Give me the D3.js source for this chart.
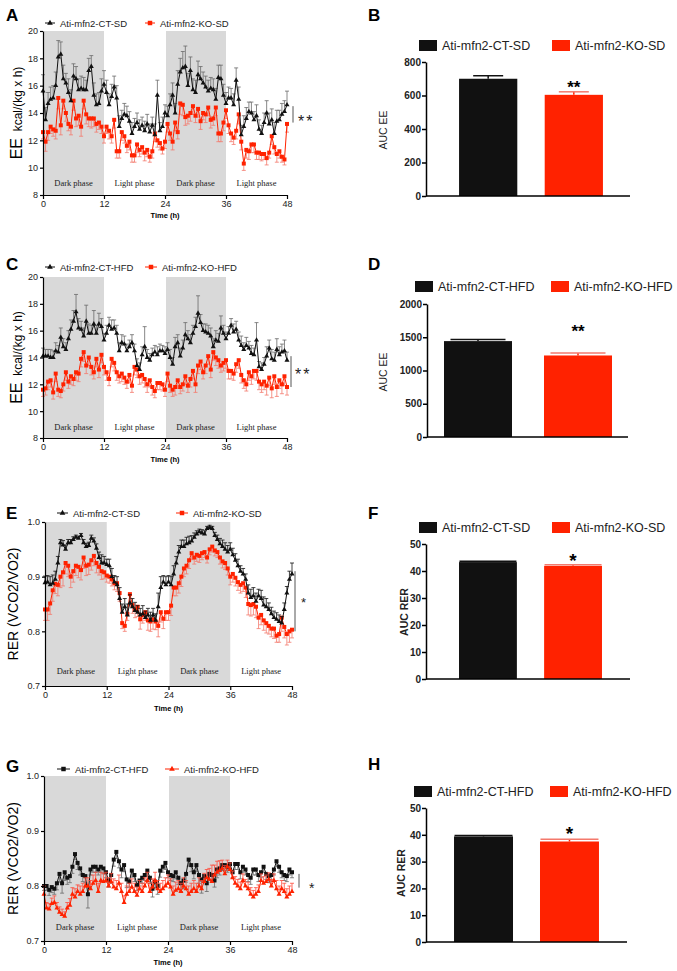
<!DOCTYPE html>
<html>
<head>
<meta charset="utf-8">
<script src="https://cdn.jsdelivr.net/npm/d3@7"></script>
<style>
body { margin: 0; background: #fff; }
svg { display: block; font-family: Arial, "Liberation Sans", sans-serif; }
</style>
</head>
<body>
<svg id="fig" width="677" height="971"></svg>
<script>
// ---- data ----
var TIME = d3.range(0, 48.5, 0.5)
var TIME_TICKS = [0, 12, 24, 36, 48]
var PHASES = [
	{name: 'Dark phase', from: 0, to: 12, dark: true},
	{name: 'Light phase', from: 12, to: 24, dark: false},
	{name: 'Dark phase', from: 24, to: 36, dark: true},
	{name: 'Light phase', from: 36, to: 48, dark: false}]

// A: EE, standard diet
var A_CT = [15.6,13.5,14.7,15.0,15.1,16.0,18.1,18.3,16.5,16.2,15.5,14.9,16.7,16.5,15.7,15.8,15.7,15.7,17.1,17.4,15.3,14.6,14.7,15.6,16.1,
	15.5,14.6,15.2,15.9,15.1,13.0,13.6,13.9,13.8,13.4,12.5,13.0,13.3,12.8,13.1,12.7,13.2,12.6,13.1,12.4,15.3,12.7,13.0,14.0,
	13.8,14.6,15.3,14.0,16.1,17.0,17.3,17.4,16.0,17.1,15.7,15.5,16.8,16.5,16.2,15.9,15.6,15.8,15.7,15.0,16.6,16.5,15.3,14.7,
	15.1,15.1,14.6,16.4,15.0,12.4,13.0,13.6,14.1,14.0,13.5,13.8,12.8,12.5,13.3,14.0,13.2,13.5,12.5,13.4,13.5,13.9,14.1,14.6]
var A_CT_ERR = [1.2,0.9,0.8,0.9,0.9,1.0,1.2,0.9,1.0,0.7,1.0,0.8,0.9,0.9,0.8,0.9,0.9,0.7,0.9,0.8,0.9,0.8,0.8,0.9,1.0,
	0.9,0.8,0.9,0.8,0.9,0.8,0.6,0.8,0.7,0.7,0.8,0.6,0.7,0.7,0.6,0.7,0.7,0.6,0.6,0.8,1.1,0.6,0.7,0.6,
	0.7,0.8,0.9,0.7,1.0,1.0,1.2,1.5,0.9,1.0,0.8,0.9,1.0,0.9,0.8,0.8,0.8,0.8,0.8,0.8,0.9,1.0,0.8,0.8,
	0.8,0.7,0.8,0.9,0.9,0.7,0.8,0.8,0.7,0.8,0.6,0.8,0.7,0.6,0.7,0.9,0.8,0.8,0.8,0.8,0.7,0.8,0.8,1.0]
var A_KO = [12.6,11.9,12.6,13.0,12.8,12.7,15.1,13.1,14.9,14.0,13.2,13.0,14.9,13.6,13.8,13.0,14.9,13.9,13.6,13.6,13.6,13.2,13.3,13.0,12.3,
	13.0,12.7,12.3,13.5,11.2,11.2,12.6,12.3,11.6,11.9,10.9,10.9,11.7,11.3,11.5,11.1,11.3,10.8,11.2,12.5,12.0,11.8,11.4,11.9,
	13.2,12.5,11.9,13.3,12.6,14.7,14.6,13.7,13.8,14.0,14.5,13.8,14.3,13.4,14.0,13.9,14.4,13.5,13.6,14.4,12.5,12.5,13.3,14.2,
	13.1,12.5,12.2,12.7,13.9,11.9,10.3,11.3,11.2,11.7,11.7,11.1,11.1,11.0,11.0,10.7,11.1,12.3,11.5,11.0,11.2,10.8,10.6,13.2]
var A_KO_ERR = [0.5,0.7,0.6,0.5,0.5,0.6,0.8,0.7,0.6,0.6,0.5,0.6,0.7,0.6,0.7,0.7,0.6,0.7,0.6,0.7,0.6,0.6,0.5,0.5,0.5,
	0.5,0.6,0.5,0.6,0.5,0.5,0.6,0.5,0.5,0.6,0.5,0.5,0.6,0.5,0.5,0.6,0.5,0.4,0.5,0.6,0.5,0.5,0.4,0.5,
	0.6,0.5,0.6,0.6,0.5,0.8,0.8,0.6,0.6,0.6,0.6,0.5,0.6,0.6,0.5,0.6,0.6,0.6,0.5,0.6,0.6,0.6,0.6,0.6,
	0.6,0.6,0.5,0.6,0.7,0.6,0.5,0.6,0.6,0.6,0.6,0.5,0.5,0.5,0.4,0.5,0.4,0.6,0.5,0.6,0.5,0.4,0.4,0.6]

// C: EE, high fat diet
var C_CT = [14.1,14.1,14.1,14.0,14.0,14.5,14.4,15.5,14.8,14.6,15.4,16.1,16.7,17.4,16.2,16.1,15.6,16.7,15.8,15.8,16.5,15.8,16.5,16.3,15.3,
	15.8,16.4,16.1,16.2,15.8,14.5,15.1,15.0,14.5,14.8,15.1,14.5,13.4,13.1,14.2,14.8,14.0,13.8,14.2,14.4,14.2,14.5,14.5,14.3,
	14.6,14.0,13.5,14.8,15.1,14.1,14.7,15.7,15.4,15.1,15.8,16.3,17.3,16.6,16.0,15.9,15.8,15.6,14.8,15.3,15.2,16.2,15.8,15.4,
	15.8,16.4,15.9,16.1,15.3,14.9,14.6,14.9,14.7,14.3,14.2,15.3,13.3,13.1,13.5,14.1,14.7,13.9,13.8,14.6,14.2,14.4,14.5,13.8]
var C_CT_ERR = [0.6,0.5,0.5,0.6,0.5,0.6,0.5,0.7,0.6,0.5,0.6,0.7,0.8,1.3,0.7,0.6,0.6,1.2,0.7,0.6,1.0,0.6,0.8,0.6,0.5,
	0.6,0.6,0.7,0.6,0.6,0.6,0.6,0.6,0.5,0.5,0.6,0.5,0.5,0.5,0.6,1.5,0.6,0.5,0.5,0.5,0.6,0.5,0.4,0.5,
	0.5,0.6,0.5,0.7,0.6,0.6,0.6,0.9,0.6,0.6,0.6,0.7,1.3,0.6,0.5,0.6,0.6,0.6,0.6,0.7,0.6,0.9,0.6,0.5,
	0.5,0.5,0.6,0.6,0.6,0.7,0.5,0.6,0.5,0.6,0.5,1.3,0.4,0.5,0.5,0.7,0.6,0.7,0.6,0.8,0.6,0.6,0.8,0.6]
var C_KO = [11.6,11.7,12.2,12.3,11.4,12.8,11.6,11.5,12.0,12.9,12.2,12.6,12.4,12.9,12.8,13.9,14.4,13.4,14.0,13.3,12.9,13.9,13.1,14.2,13.3,
	12.9,12.4,13.9,13.6,12.9,12.6,12.8,12.5,12.2,12.7,11.9,13.3,13.1,12.6,12.7,12.4,12.0,12.3,11.8,11.5,12.1,12.1,12.0,11.6,
	12.8,11.9,11.6,11.8,12.3,11.8,12.0,12.6,11.9,12.4,13.0,12.0,13.4,13.7,12.9,13.4,14.1,13.1,14.4,14.0,13.8,13.4,13.6,13.8,
	13.0,13.0,12.8,13.5,13.8,12.7,12.3,12.0,12.9,12.6,13.0,13.0,12.2,12.0,12.2,11.9,12.5,11.7,12.6,11.8,12.3,12.0,12.6,11.8]
var C_KO_ERR = [0.5,0.5,0.6,0.5,0.5,0.6,0.5,0.5,0.5,0.6,0.5,0.6,0.5,0.6,0.6,0.6,0.7,0.6,0.6,0.6,0.5,0.6,0.6,0.6,0.6,
	0.6,0.5,0.6,0.6,0.6,0.5,0.6,0.5,0.5,0.6,0.5,0.6,0.6,0.6,0.6,0.6,0.6,0.5,0.6,0.5,0.5,0.5,0.5,0.5,
	0.6,0.5,0.5,0.6,0.6,0.5,0.5,0.6,0.5,0.6,0.6,0.6,0.6,0.6,0.5,0.6,0.6,0.6,0.6,0.6,0.6,0.5,0.6,0.6,
	0.6,0.6,0.5,0.6,0.6,0.6,0.6,0.5,0.6,0.6,0.6,0.7,0.6,0.6,0.6,0.7,0.6,0.7,0.6,0.7,0.6,0.7,0.7,0.6]

// E: RER, standard diet
var E_CT = [.889,.890,.885,.888,.895,.925,.962,.958,.950,.962,.962,.968,.972,.970,.975,.962,.955,.957,.970,.965,.952,.935,.925,.925,.922,
	.920,.900,.890,.885,.860,.835,.845,.830,.852,.845,.838,.835,.830,.832,.825,.830,.820,.830,.820,.845,.880,.890,.885,.890,
	.885,.905,.925,.945,.955,.955,.960,.962,.965,.972,.978,.982,.980,.978,.988,.990,.988,.975,.968,.960,.955,.950,.945,.950,
	.940,.930,.920,.910,.905,.895,.870,.862,.865,.855,.865,.860,.848,.845,.840,.832,.825,.822,.818,.815,.840,.870,.895,.905]
var E_CT_ERR = [.012,.012,.015,.015,.015,.012,.006,.008,.008,.006,.006,.005,.004,.004,.004,.006,.006,.006,.006,.006,.008,.010,.015,.012,.010,
	.012,.015,.012,.015,.020,.015,.015,.020,.015,.015,.015,.012,.012,.015,.012,.012,.015,.012,.012,.025,.020,.012,.015,.012,
	.015,.015,.012,.012,.012,.012,.012,.012,.010,.008,.006,.005,.006,.006,.004,.004,.004,.006,.008,.010,.012,.012,.012,.012,
	.012,.012,.012,.010,.010,.010,.015,.015,.015,.015,.012,.015,.015,.015,.012,.012,.012,.012,.012,.012,.012,.012,.015,.020]
var E_KO = [.840,.840,.851,.875,.887,.885,.900,.908,.925,.920,.900,.910,.920,.918,.912,.935,.920,.922,.930,.938,.925,.918,.910,.908,.902,
	.900,.895,.888,.888,.870,.815,.810,.832,.868,.848,.840,.845,.822,.830,.835,.820,.818,.822,.818,.810,.835,.823,.835,.835,
	.847,.880,.880,.888,.900,.915,.920,.930,.943,.935,.940,.938,.943,.945,.935,.950,.955,.948,.945,.935,.928,.925,.915,.900,
	.905,.898,.890,.885,.888,.880,.850,.848,.850,.845,.825,.830,.820,.815,.810,.805,.805,.792,.795,.825,.808,.795,.800,.803]
var E_KO_ERR = [.020,.020,.020,.020,.018,.020,.020,.025,.020,.020,.020,.020,.018,.020,.018,.020,.018,.018,.018,.018,.018,.015,.015,.012,.012,
	.012,.012,.012,.015,.015,.010,.010,.012,.018,.015,.015,.018,.018,.015,.015,.018,.018,.018,.015,.020,.018,.018,.015,.015,
	.018,.015,.015,.018,.018,.015,.015,.015,.012,.012,.012,.012,.012,.010,.010,.010,.010,.010,.010,.012,.012,.012,.012,.015,
	.015,.015,.015,.015,.015,.018,.020,.020,.020,.020,.020,.018,.018,.018,.015,.015,.018,.012,.015,.025,.020,.020,.020,.015]

// G: RER, high fat diet
var G_CT = [.800,.800,.793,.798,.795,.805,.822,.805,.825,.815,.818,.835,.858,.842,.832,.820,.818,.785,.830,.835,.835,.830,.835,.832,.825,
	.810,.820,.848,.862,.845,.830,.838,.812,.808,.828,.820,.802,.810,.815,.820,.828,.815,.795,.808,.800,.828,.835,.842,.825,
	.820,.818,.825,.815,.805,.810,.822,.848,.838,.825,.838,.820,.812,.818,.805,.822,.820,.810,.830,.832,.838,.838,.835,.840,
	.825,.840,.840,.825,.835,.830,.820,.815,.830,.830,.820,.825,.835,.822,.818,.820,.830,.845,.835,.825,.820,.818,.830,.825]
var G_CT_ERR = [.008,.008,.010,.010,.010,.012,.015,.018,.015,.012,.012,.012,.010,.012,.012,.012,.012,.025,.010,.010,.010,.010,.010,.010,.010,
	.012,.015,.012,.012,.012,.015,.012,.015,.010,.012,.012,.010,.010,.010,.010,.010,.010,.015,.012,.015,.012,.010,.012,.010,
	.010,.010,.012,.012,.015,.015,.015,.012,.012,.012,.012,.015,.025,.012,.015,.012,.012,.012,.015,.012,.010,.010,.010,.010,
	.010,.010,.010,.012,.010,.010,.012,.012,.010,.010,.012,.010,.010,.010,.012,.012,.010,.010,.010,.010,.010,.010,.010,.010]
var G_KO = [.785,.760,.758,.768,.770,.760,.752,.748,.745,.760,.765,.785,.780,.790,.785,.790,.800,.800,.795,.805,.810,.790,.810,.808,.810,
	.800,.808,.798,.795,.805,.790,.770,.785,.790,.798,.790,.783,.795,.790,.800,.810,.790,.798,.810,.795,.790,.795,.800,.805,
	.798,.785,.792,.795,.790,.800,.795,.785,.790,.795,.790,.800,.795,.808,.815,.812,.808,.820,.825,.828,.832,.822,.835,.830,
	.815,.805,.800,.795,.810,.800,.795,.785,.780,.785,.790,.810,.805,.808,.812,.800,.810,.795,.785,.795,.790,.780,.785,.790]
var G_KO_ERR = [.015,.010,.010,.010,.012,.010,.010,.010,.008,.010,.012,.012,.015,.012,.015,.015,.015,.015,.015,.015,.015,.015,.015,.015,.015,
	.015,.015,.015,.015,.015,.015,.012,.015,.015,.015,.015,.015,.015,.015,.015,.015,.015,.015,.015,.015,.015,.015,.015,.015,
	.015,.015,.015,.015,.015,.015,.015,.015,.015,.015,.015,.015,.015,.015,.015,.020,.030,.018,.020,.018,.015,.015,.012,.012,
	.012,.012,.012,.012,.012,.012,.012,.012,.012,.012,.012,.012,.012,.012,.012,.012,.012,.015,.015,.015,.015,.015,.015,.015]

// AUC bar panels
var SD_NAMES = ['Ati-mfn2-CT-SD', 'Ati-mfn2-KO-SD']
var HFD_NAMES = ['Ati-mfn2-CT-HFD', 'Ati-mfn2-KO-HFD']
var B_AUC = [700, 604], B_ERR = [18, 18]
var D_AUC = [1442, 1226], D_ERR = [25, 38]
var F_AUC = [43.3, 41.9], F_ERR = [0.3, 0.4]
var H_AUC = [39.4, 37.5], H_ERR = [0.3, 0.8]
var EE_TICKS = [8, 10, 12, 14, 16, 18, 20]
var RER_TICKS = [0.7, 0.8, 0.9, 1.0]

// ---- styles ----
var RED = '#ff2200',
	RED_ERR = '#f4796c',
	BLACK = '#111',
	GREY_ERR = '#6a6a6a',
	SHADE = '#d9d9d9'

var svg = d3.select('#fig')
svg.append('rect').attr('width', 677).attr('height', 971).attr('fill', '#fff')

function panelLabel(txt, x, y) {
	svg.append('text').text(txt)
		.attr('x', x).attr('y', y)
		.attr('font-size', 17).attr('font-weight', 'bold')
}

function symbolPath(type, size) {
	return d3.symbol().type(type == 'tri' ? d3.symbolTriangle : d3.symbolSquare).size(size)()
}

function drawSeries(g, x, y, s) {
	var pts = TIME.map(function(t, i) { return {t: t, v: s.values[i], e: s.err[i]} })

	g.selectAll(null).data(pts).enter().append('line')
		.attr('x1', function(d) { return x(d.t) })
		.attr('x2', function(d) { return x(d.t) })
		.attr('y1', function(d) { return y(d.v) })
		.attr('y2', function(d) { return y(d.v + s.dir * d.e) })
		.attr('stroke', s.errColor).attr('stroke-width', 0.8)

	g.selectAll(null).data(pts).enter().append('line')
		.attr('x1', function(d) { return x(d.t) - 2 })
		.attr('x2', function(d) { return x(d.t) + 2 })
		.attr('y1', function(d) { return y(d.v + s.dir * d.e) })
		.attr('y2', function(d) { return y(d.v + s.dir * d.e) })
		.attr('stroke', s.errColor).attr('stroke-width', 0.8)

	g.append('path').datum(pts)
		.attr('d', d3.line().x(function(d) { return x(d.t) }).y(function(d) { return y(d.v) }))
		.attr('fill', 'none').attr('stroke', s.color).attr('stroke-width', 1)

	g.selectAll(null).data(pts).enter().append('path')
		.attr('transform', function(d) { return 'translate(' + x(d.t) + ',' + y(d.v) + ')' })
		.attr('d', symbolPath(s.marker, s.marker == 'tri' ? 11 : 16))
		.attr('fill', s.color)
}

function linePanel(cfg) {
	var g = svg.append('g')
	var x = d3.scaleLinear().domain([0, 48]).range([cfg.x0, cfg.x1])
	var y = d3.scaleLinear().domain(cfg.yDomain).range([cfg.yb, cfg.yt])

	g.selectAll('rect.phase').data(PHASES.filter(function(d) { return d.dark }))
		.enter().append('rect')
		.attr('x', function(d) { return x(d.from) + 1 })
		.attr('width', function(d) { return x(d.to) - x(d.from) - 1 })
		.attr('y', y(cfg.yDomain[1]))
		.attr('height', y(cfg.yDomain[0]) - y(cfg.yDomain[1]))
		.attr('fill', SHADE)

	g.selectAll('text.phase').data(PHASES).enter().append('text')
		.text(function(d) { return d.name })
		.attr('x', function(d) { return x((d.from + d.to) / 2) })
		.attr('y', cfg.phaseY)
		.attr('text-anchor', 'middle')
		.attr('font-family', '"Liberation Serif", serif')
		.attr('font-size', 8.5).attr('fill', '#222')

	cfg.series.forEach(function(s) { drawSeries(g.append('g'), x, y, s) })

	var xa = g.append('g').attr('transform', 'translate(0,' + cfg.yb + ')')
		.call(d3.axisBottom(x).tickValues(TIME_TICKS).tickSize(4).tickSizeOuter(0).tickPadding(2))
	var ya = g.append('g').attr('transform', 'translate(' + cfg.x0 + ',0)')
		.call(d3.axisLeft(y).tickValues(cfg.yTicks).tickFormat(cfg.fmt).tickSize(3).tickSizeOuter(0).tickPadding(2))
	;[xa, ya].forEach(function(a) {
		a.selectAll('path, line').attr('stroke', '#000').attr('stroke-width', 1.2)
		a.selectAll('text').attr('font-size', 9).attr('fill', '#222').attr('font-family', 'Arial, "Liberation Sans", sans-serif')
	})

	g.append('text').text('Time (h)')
		.attr('x', (cfg.x0 + cfg.x1) / 2).attr('y', cfg.timeY)
		.attr('text-anchor', 'middle').attr('font-size', 7.5).attr('font-weight', 'bold')

	var yl = g.append('text')
		.attr('transform', 'translate(' + cfg.ylabX + ',' + (cfg.yt + cfg.yb) / 2 + ') rotate(-90)')
		.attr('text-anchor', 'middle')
	cfg.ylab.forEach(function(p) {
		yl.append('tspan').text(p[0]).attr('font-size', p[1]).attr('xml:space', 'preserve')
	})

	// legend
	cfg.legend.forEach(function(l, i) {
		var s = cfg.series.filter(function(d) { return d.key == l.key })[0]
		g.append('line').attr('x1', l.x).attr('x2', l.x + l.w).attr('y1', cfg.legY).attr('y2', cfg.legY)
			.attr('stroke', s.color).attr('stroke-width', 1)
		g.append('path').attr('transform', 'translate(' + (l.x + l.w / 2) + ',' + cfg.legY + ')')
			.attr('d', symbolPath(s.marker, s.marker == 'tri' ? 14 : 20)).attr('fill', s.color)
		g.append('text').text(l.name).attr('x', l.x + l.w + 5).attr('y', cfg.legY + 3.5)
			.attr('font-size', 9.5).attr('fill', '#222')
	})

	// significance bracket
	g.append('line').attr('x1', cfg.sig.x).attr('x2', cfg.sig.x)
		.attr('y1', y(cfg.sig.from)).attr('y2', y(cfg.sig.to))
		.attr('stroke', '#555').attr('stroke-width', 1)
	g.append('text').text(cfg.sig.txt).attr('x', cfg.sig.tx).attr('y', cfg.sig.ty)
		.attr('font-size', cfg.sig.fs).attr('letter-spacing', 2).attr('fill', '#222')
}

function barPanel(cfg) {
	var g = svg.append('g')
	var x = d3.scaleBand().domain(cfg.names).range([cfg.x0, cfg.bandEnd])
		.paddingInner(cfg.pi).paddingOuter(cfg.po)
	var y = d3.scaleLinear().domain([0, cfg.max]).range([cfg.yb, cfg.yt])
	var colors = [BLACK, RED]
	var rows = cfg.names.map(function(n, i) { return {name: n, v: cfg.values[i], e: cfg.err[i], c: colors[i]} })

	g.selectAll('rect.bar').data(rows).enter().append('rect')
		.attr('x', function(d) { return x(d.name) })
		.attr('width', x.bandwidth())
		.attr('y', function(d) { return y(d.v) })
		.attr('height', function(d) { return y(0) - y(d.v) })
		.attr('fill', function(d) { return d.c })

	g.selectAll('line.err').data(rows).enter().append('line')
		.attr('x1', function(d) { return x(d.name) + x.bandwidth() / 2 })
		.attr('x2', function(d) { return x(d.name) + x.bandwidth() / 2 })
		.attr('y1', function(d) { return y(d.v) })
		.attr('y2', function(d) { return y(d.v + d.e) })
		.attr('stroke', function(d) { return d.c }).attr('stroke-width', 1.5)
	g.selectAll('line.cap').data(rows).enter().append('line')
		.attr('x1', function(d) { return x(d.name) + x.bandwidth() / 2 - cfg.cap / 2 })
		.attr('x2', function(d) { return x(d.name) + x.bandwidth() / 2 + cfg.cap / 2 })
		.attr('y1', function(d) { return y(d.v + d.e) })
		.attr('y2', function(d) { return y(d.v + d.e) })
		.attr('stroke', function(d) { return d.c == RED ? RED_ERR : d.c }).attr('stroke-width', 1.5)

	var ya = g.append('g').attr('transform', 'translate(' + cfg.x0 + ',0)')
		.call(d3.axisLeft(y).tickValues(cfg.ticks).tickFormat(d3.format('d')).tickSize(4).tickSizeOuter(0).tickPadding(1))
	ya.selectAll('path, line').attr('stroke', '#000').attr('stroke-width', 1.5)
	ya.selectAll('text').attr('font-size', 10).attr('font-weight', 'bold').attr('fill', '#222')
		.attr('font-family', 'Arial, "Liberation Sans", sans-serif')

	g.append('line').attr('x1', cfg.x0).attr('x2', cfg.xEnd).attr('y1', y(0)).attr('y2', y(0))
		.attr('stroke', '#000').attr('stroke-width', 1.5)

	g.append('text').text(cfg.ylab)
		.attr('transform', 'translate(' + cfg.ylabX + ',' + cfg.ylabY + ') rotate(-90)')
		.attr('text-anchor', 'middle').attr('font-size', 10.5)
		.attr('font-weight', cfg.ylabBold ? 'bold' : 'normal').attr('fill', '#222')

	rows.forEach(function(d, i) {
		g.append('rect').attr('x', cfg.legX[i]).attr('y', cfg.legY).attr('width', 18).attr('height', 11)
			.attr('fill', d.c)
		g.append('text').text(d.name).attr('x', cfg.legX[i] + 23).attr('y', cfg.legY + 10)
			.attr('font-size', 12.5).attr('fill', '#222')
	})

	g.append('text').text(cfg.star.txt)
		.attr('x', x(cfg.names[1]) + x.bandwidth() / 2).attr('y', cfg.star.y)
		.attr('text-anchor', 'middle').attr('font-size', cfg.star.fs).attr('font-weight', 'bold')
}

// ---- panels ----
panelLabel('A', 6, 21)
linePanel({
	x0: 43, x1: 287, yt: 31, yb: 195, yDomain: [8, 20], yTicks: EE_TICKS, fmt: d3.format('d'),
	phaseY: 186, timeY: 218, ylabX: 22, ylab: [['EE', 16], ['  kcal/(kg x h)', 12]],
	legY: 23, legend: [{key: 'ct', name: 'Ati-mfn2-CT-SD', x: 45, w: 10}, {key: 'ko', name: 'Ati-mfn2-KO-SD', x: 145, w: 10}],
	sig: {x: 293, from: 14.5, to: 13.3, txt: '**', tx: 298, ty: 127, fs: 16},
	series: [
		{key: 'ko', values: A_KO, err: A_KO_ERR, dir: -1, color: RED, errColor: RED_ERR, marker: 'sq'},
		{key: 'ct', values: A_CT, err: A_CT_ERR, dir: 1, color: BLACK, errColor: GREY_ERR, marker: 'tri'}]
})

panelLabel('B', 368, 21)
barPanel({
	names: SD_NAMES, values: B_AUC, err: B_ERR, max: 800, ticks: [0, 200, 400, 600, 800],
	x0: 426, xEnd: 630, bandEnd: 636, pi: 0.32, po: 0.386, yt: 62, yb: 196, cap: 30,
	ylab: 'AUC EE', ylabX: 387, ylabY: 130, ylabBold: false,
	legX: [419, 552], legY: 40, star: {txt: '**', y: 93, fs: 17}
})

panelLabel('C', 6, 270)
linePanel({
	x0: 43, x1: 287, yt: 277, yb: 438, yDomain: [8, 20], yTicks: EE_TICKS, fmt: d3.format('d'),
	phaseY: 430, timeY: 462, ylabX: 22, ylab: [['EE', 16], ['  kcal/(kg x h)', 12]],
	legY: 267, legend: [{key: 'ct', name: 'Ati-mfn2-CT-HFD', x: 45, w: 10}, {key: 'ko', name: 'Ati-mfn2-KO-HFD', x: 145, w: 12}],
	sig: {x: 291, from: 14.1, to: 11.8, txt: '**', tx: 295, ty: 380, fs: 16},
	series: [
		{key: 'ko', values: C_KO, err: C_KO_ERR, dir: -1, color: RED, errColor: RED_ERR, marker: 'sq'},
		{key: 'ct', values: C_CT, err: C_CT_ERR, dir: 1, color: BLACK, errColor: GREY_ERR, marker: 'tri'}]
})

panelLabel('D', 368, 270)
barPanel({
	names: HFD_NAMES, values: D_AUC, err: D_ERR, max: 2000, ticks: [0, 500, 1000, 1500, 2000],
	x0: 427, xEnd: 628, bandEnd: 629, pi: 0.32, po: 0.17, yt: 304, yb: 437, cap: 55,
	ylab: 'AUC EE', ylabX: 387, ylabY: 372, ylabBold: false,
	legX: [415, 551], legY: 281, star: {txt: '**', y: 337, fs: 17}
})

panelLabel('E', 6, 519)
linePanel({
	x0: 45, x1: 292, yt: 522, yb: 686, yDomain: [0.7, 1.0], yTicks: RER_TICKS, fmt: d3.format('.1f'),
	phaseY: 674, timeY: 711, ylabX: 18, ylab: [['RER (VCO2/VO2)', 14]],
	legY: 513, legend: [{key: 'ct', name: 'Ati-mfn2-CT-SD', x: 57, w: 11}, {key: 'ko', name: 'Ati-mfn2-KO-SD', x: 176, w: 12}],
	sig: {x: 295, from: 0.91, to: 0.80, txt: '*', tx: 301, ty: 607, fs: 13},
	series: [
		{key: 'ko', values: E_KO, err: E_KO_ERR, dir: -1, color: RED, errColor: RED_ERR, marker: 'sq'},
		{key: 'ct', values: E_CT, err: E_CT_ERR, dir: 1, color: BLACK, errColor: BLACK, marker: 'tri'}]
})

panelLabel('F', 368, 519)
barPanel({
	names: SD_NAMES, values: F_AUC, err: F_ERR, max: 50, ticks: [0, 10, 20, 30, 40, 50],
	x0: 426, xEnd: 630, bandEnd: 635, pi: 0.32, po: 0.388, yt: 544, yb: 679, cap: 57,
	ylab: 'AUC RER', ylabX: 408, ylabY: 612, ylabBold: true,
	legX: [419, 552], legY: 522, star: {txt: '*', y: 567, fs: 19}
})

panelLabel('G', 6, 772)
linePanel({
	x0: 44, x1: 292, yt: 776, yb: 941, yDomain: [0.7, 1.0], yTicks: RER_TICKS, fmt: d3.format('.1f'),
	phaseY: 930, timeY: 965, ylabX: 18, ylab: [['RER (VCO2/VO2)', 14]],
	legY: 769, legend: [{key: 'ct', name: 'Ati-mfn2-CT-HFD', x: 57, w: 13}, {key: 'ko', name: 'Ati-mfn2-KO-HFD', x: 165, w: 14}],
	sig: {x: 299, from: 0.822, to: 0.797, txt: '*', tx: 309, ty: 893, fs: 14},
	series: [
		{key: 'ct', values: G_CT, err: G_CT_ERR, dir: -1, color: BLACK, errColor: GREY_ERR, marker: 'sq'},
		{key: 'ko', values: G_KO, err: G_KO_ERR, dir: 1, color: RED, errColor: '#ff4a3a', marker: 'tri'}]
})

panelLabel('H', 368, 770)
barPanel({
	names: HFD_NAMES, values: H_AUC, err: H_ERR, max: 50, ticks: [0, 10, 20, 30, 40, 50],
	x0: 426, xEnd: 627, bandEnd: 627, pi: 0.314, po: 0.326, yt: 808, yb: 942, cap: 58,
	ylab: 'AUC RER', ylabX: 405, ylabY: 873, ylabBold: true,
	legX: [414, 550], legY: 786, star: {txt: '*', y: 840, fs: 19}
})
</script>
</body>
</html>
